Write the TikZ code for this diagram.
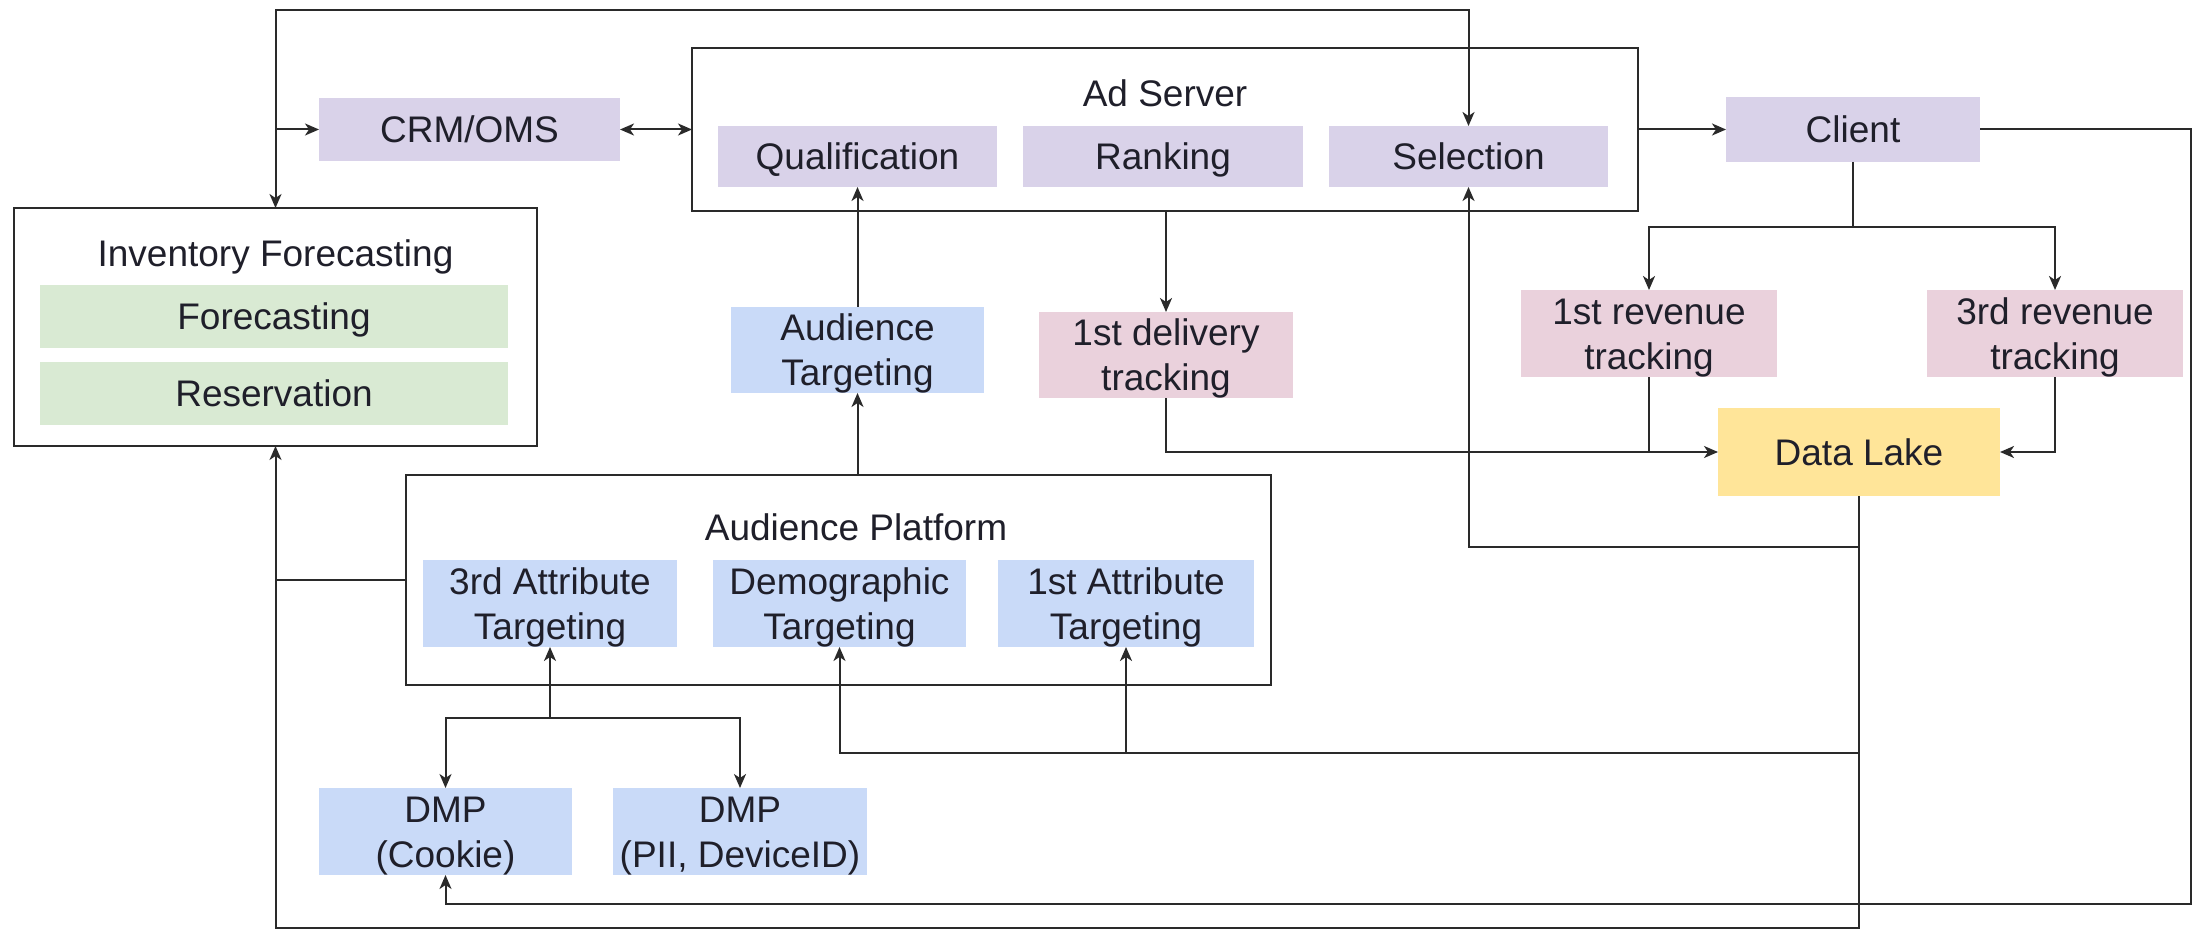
\documentclass[tikz,border=0pt]{standalone}
\usepackage{fontspec}
\setmainfont{Liberation Sans}
\usetikzlibrary{arrows.meta}
\definecolor{lav}{HTML}{D9D2E9}
\definecolor{sky}{HTML}{C9DAF8}
\definecolor{rose}{HTML}{EAD1DC}
\definecolor{mint}{HTML}{D9EAD3}
\definecolor{sand}{HTML}{FFE599}
\definecolor{ink}{HTML}{1F1F2A}
\definecolor{wire}{HTML}{2A2A2A}

\begin{document}
\begin{tikzpicture}[x=0.5pt,y=-0.5pt,
  every node/.style={inner sep=0pt, outer sep=0pt, text=ink, align=center,
    font=\fontsize{18.5}{22.5}\selectfont, text height=13.3pt, text depth=0pt},
  twoline/.style={text height=35.8pt},
  container/.style={draw=wire, line width=1.2pt, fill=white},
  tile/.style={fill=#1},
  link/.style={draw=wire, line width=1pt},
  tip/.tip={Stealth[length=7pt,width=6pt,inset=2pt]},
  arr/.style={link, -tip},
  arr2/.style={link, tip-tip}]

% canvas
\fill[white] (0,0) rectangle (2198,930);
\useasboundingbox (0,0) rectangle (2198,930);

% ---------- containers ----------
\node[container, minimum width=261.5pt, minimum height=119pt] (inv) at (275.5,327) {};
\node (invt) at (275.5,253) {Inventory Forecasting};
\node[tile=mint, minimum width=234pt, minimum height=31.5pt] (fc) at (274,316.5) {Forecasting};
\node[tile=mint, minimum width=234pt, minimum height=31.5pt] (rs) at (274,393.5) {Reservation};

\node[container, minimum width=473pt, minimum height=81.5pt] (ad) at (1165,129.5) {};
\node (adt) at (1165,93) {Ad Server};
\node[tile=lav, minimum width=139.5pt, minimum height=30.5pt] (q) at (857.5,156.5) {Qualification};
\node[tile=lav, minimum width=140pt, minimum height=30.5pt] (rk) at (1163,156.5) {Ranking};
\node[tile=lav, minimum width=139.5pt, minimum height=30.5pt] (s) at (1468.5,156.5) {Selection};

\node[container, minimum width=432.5pt, minimum height=105pt] (ap) at (838.5,580) {};
\node (apt) at (856,527) {Audience Platform};
\node[tile=sky, twoline, minimum width=127pt, minimum height=43.5pt] (a3) at (550,603.5) {3rd Attribute\\Targeting};
\node[tile=sky, twoline, minimum width=126.5pt, minimum height=43.5pt] (dm) at (839.5,603.5) {Demographic\\Targeting};
\node[tile=sky, twoline, minimum width=128pt, minimum height=43.5pt] (a1) at (1126,603.5) {1st Attribute\\Targeting};

% ---------- standalone boxes ----------
\node[tile=lav, minimum width=150.5pt, minimum height=31.5pt] (crm) at (469.5,129.5) {CRM/OMS};
\node[tile=lav, minimum width=127pt, minimum height=32.5pt] (client) at (1853,129.5) {Client};

\node[tile=sky, twoline, minimum width=126.5pt, minimum height=43pt] (at) at (857.5,350) {Audience\\Targeting};
\node[tile=rose, twoline, minimum width=127pt, minimum height=43pt] (dt) at (1166,355) {1st delivery\\tracking};
\node[tile=rose, twoline, minimum width=128pt, minimum height=43.5pt] (r1) at (1649,333.5) {1st revenue\\tracking};
\node[tile=rose, twoline, minimum width=128pt, minimum height=43.5pt] (r3) at (2055,333.5) {3rd revenue\\tracking};
\node[tile=sand, minimum width=141pt, minimum height=44pt] (dl) at (1859,452) {Data Lake};

\node[tile=sky, twoline, minimum width=126.5pt, minimum height=43.5pt] (dc) at (445.5,831.5) {DMP\\(Cookie)};
\node[tile=sky, twoline, minimum width=127pt, minimum height=43.5pt] (dp) at (740,831.5) {DMP\\(PII, DeviceID)};

% ---------- routing points ----------
\coordinate (topl) at (275.5,10);
\coordinate (topr) at (1468.5,10);
\coordinate (cj) at (1853,227);
\coordinate (cr) at (2191,129.5);
\coordinate (cb) at (2191,904);
\coordinate (dsel) at (1859,547);
\coordinate (dtgt) at (1859,753);
\coordinate (bl) at (275.5,928);
\coordinate (dmpj) at (550,718);

% ---------- connectors ----------
% top loop between inventory forecasting, CRM/OMS and selection
\draw[arr2] (inv.north) -- (topl) -- (topr) -- (s.north);
\draw[arr] (inv.north |- crm.west) -- (crm.west);
\draw[arr2] (crm.east) -- (ad.west);

% ad server outputs
\draw[arr] (ad.east |- client.west) -- (client.west);
\draw[arr] (dt.north |- ad.south) -- (dt.north);

% client fan-out to revenue tracking
\draw[link] (client.south) -- (cj);
\draw[arr] (cj) -| (r1.north);
\draw[arr] (cj) -| (r3.north);

% tracking into the data lake
\draw[arr] (dt.south) |- (dl.west);
\draw[link] (r1.south) -- (r1.south |- dl.west);
\draw[arr] (r3.south) |- (dl.east);

% client back to the cookie DMP
\draw[arr] (client.east) -- (cr) -- (cb) -| (dc.south);

% data lake feedback paths
\draw[arr] (dl.south) |- (bl) -- (inv.south);
\draw[arr] (dsel) -| (s.south);
\draw[arr] (dtgt) -| (dm.south);
\draw[arr] (a1.south |- dtgt) -- (a1.south);

% audience platform links
\draw[link] (ap.west) -- (ap.west -| inv.south);
\draw[arr] (at.south |- ap.north) -- (at.south);
\draw[arr] (at.north) -- (q.south);

% DMP sources for 3rd attribute targeting
\draw[arr] (dmpj) -- (a3.south);
\draw[arr] (dmpj) -| (dc.north);
\draw[arr] (dmpj) -| (dp.north);
\end{tikzpicture}
\end{document}
